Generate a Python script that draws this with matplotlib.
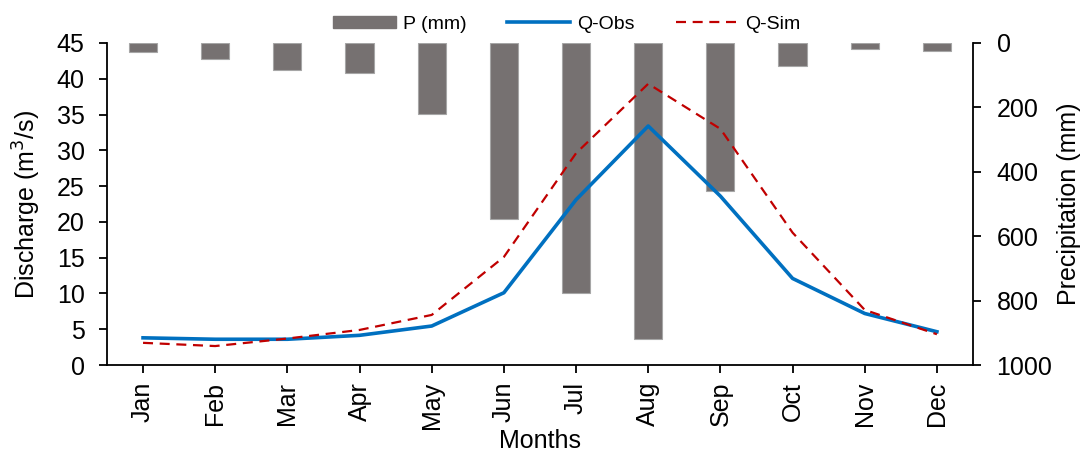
import matplotlib
matplotlib.use("Agg")
import matplotlib.pyplot as plt
from matplotlib.patches import Patch
from matplotlib.lines import Line2D
import numpy as np

plt.rcParams['font.family'] = ['Liberation Sans', 'DejaVu Sans']

months = ["Jan", "Feb", "Mar", "Apr", "May", "Jun", "Jul", "Aug", "Sep", "Oct", "Nov", "Dec"]
precip_mm = [29, 49, 84, 93, 221, 546, 777, 920, 461, 71, 19, 25]
q_obs = [3.8, 3.6, 3.6, 4.15, 5.45, 10.1, 23.1, 33.4, 23.6, 12.1, 7.2, 4.65]
q_sim = [3.1, 2.65, 3.7, 4.9, 7.0, 15.1, 29.6, 39.3, 33.0, 18.5, 7.7, 4.3]

fig = plt.figure(figsize=(10.88, 4.54), dpi=100)
ax = fig.add_axes([0.0983, 0.196, 0.796, 0.7093])
ax2 = ax.twinx()

x = np.arange(len(months))
ax2.bar(x, precip_mm, width=0.39, color="#767171", edgecolor="#A6A6A6", linewidth=0.8)
ax2.set_ylim(1000, 0)
ax2.set_yticks(np.arange(0, 1001, 200))

dash = (0, (4.5, 3))
ax.plot(x, q_obs, color="#0070C0", linewidth=2.6, solid_joinstyle="round")
ax.plot(x, q_sim, color="#C00000", linewidth=1.6, linestyle=dash)
ax.set_zorder(ax2.get_zorder() + 1)
ax.patch.set_visible(False)

ax.set_xlim(-0.5, 11.5)
ax.set_ylim(0, 45)
ax.set_yticks(np.arange(0, 46, 5))
ax.set_xticks(x)
ax.set_xticklabels(months, rotation=90)

fs = 18
for a in (ax, ax2):
    a.spines['top'].set_visible(False)
    for s in a.spines.values():
        s.set_linewidth(1.3)
    a.tick_params(labelsize=fs, width=1.3, length=6, direction='out')
ax.tick_params(axis='y', pad=10)
ax2.tick_params(axis='y', pad=11)
ax.tick_params(axis='x', pad=6)
ax.spines['right'].set_visible(False)
ax2.spines['left'].set_visible(False)
ax2.spines['bottom'].set_visible(False)

ax.set_ylabel("Discharge (m$^3$/s)", fontsize=fs, labelpad=10)
ax2.set_ylabel("Precipitation (mm)", fontsize=fs, labelpad=3)
ax.set_xlabel("Months", fontsize=fs, labelpad=0)

handles = [Patch(facecolor="#767171", edgecolor="#767171"),
           Line2D([0], [0], color="#0070C0", linewidth=2.6),
           Line2D([0], [0], color="#C00000", linewidth=1.6, linestyle=dash)]
labels = ["P (mm)", "Q-Obs", "Q-Sim"]
fig.legend(handles, labels, loc="center", bbox_to_anchor=(0.521, 0.947), ncol=3,
           frameon=False, fontsize=14, handlelength=3.25, handleheight=0.55,
           columnspacing=2.1, handletextpad=0.35, borderpad=0, borderaxespad=0)

fig.savefig("out.png", dpi=100)
